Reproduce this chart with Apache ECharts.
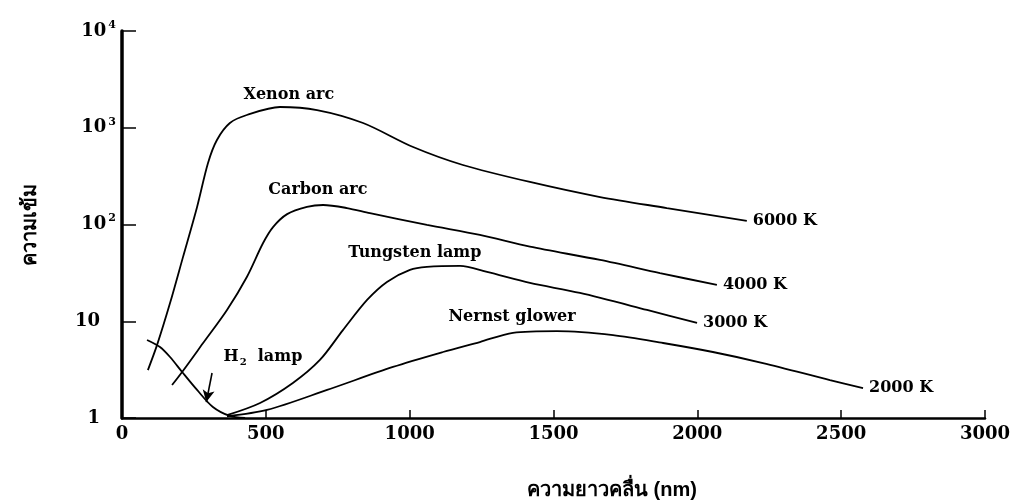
<!DOCTYPE html>
<html>
<head>
<meta charset="utf-8">
<script src="https://cdn.jsdelivr.net/npm/echarts@6/dist/echarts.min.js"></script>
<style>
html,body{margin:0;padding:0;background:#fff;}
#chart{width:1021px;height:501px;}
</style>
</head>
<body>
<div id="chart"></div>
<script>
// wavelength (nm) and relative intensity
const xenonX = [90, 122, 167, 212, 261, 299, 330, 375, 434, 549, 678, 838, 1012, 1185, 1418, 1662, 1894, 2172];
const xenonY = [3.13, 5.7, 15.4, 46, 152, 432, 747, 1120, 1355, 1638, 1525, 1120, 632, 412, 275, 192, 148, 109];

const carbonX = [174, 209, 282, 365, 434, 490, 525, 574, 643, 699, 782, 862, 1060, 1244, 1418, 1662, 1870, 2068];
const carbonY = [2.19, 2.99, 5.96, 13.1, 28.7, 64, 94, 128, 152, 159, 148, 131, 99, 78, 59, 43, 31.5, 23.7];

const tungstenX = [365, 480, 594, 688, 768, 852, 921, 1001, 1060, 1175, 1269, 1418, 1592, 1825, 1999];
const tungstenY = [1.07, 1.43, 2.30, 3.98, 8.1, 16.6, 25.5, 33.9, 36.4, 37.3, 32.3, 24.9, 19.6, 13.1, 9.6];

const nernstX = [365, 504, 713, 942, 1116, 1244, 1359, 1512, 1707, 1881, 2054, 2228, 2461, 2576];
const nernstY = [1.04, 1.21, 1.95, 3.37, 4.81, 6.1, 7.6, 7.9, 7.2, 5.96, 4.81, 3.70, 2.47, 2.04];

const h2X = [87, 132, 167, 209, 261, 316, 375, 428];
const h2Y = [6.4, 5.42, 4.27, 2.99, 1.95, 1.30, 1.05, 1.0];

const tempLabels = ['6000 K', '4000 K', '3000 K', '2000 K'];
const curveNames = ['Xenon arc', 'Carbon arc', 'Tungsten lamp', 'Nernst glower', 'H2 lamp'];
const curveLabelX = [580, 681, 1018, 1356, 490];
const curveLabelY = [2180, 227, 50.7, 11.1, 4.27];

const arrowX = [313, 293];
const arrowY = [2.92, 1.46];

const xTicks = [0, 500, 1000, 1500, 2000, 2500, 3000];
const xTitle = 'ความยาวคลื่น (nm)';
const yTitle = 'ความเข้ม';

const pairs = (xs, ys) => xs.map((x, i) => [x, ys[i]]);
const FONT = 'DejaVu Serif';

const lineBase = (name, xs, ys, endText) => ({
  type: 'line', name: name, data: pairs(xs, ys), smooth: 0.3, showSymbol: false,
  lineStyle: {color: '#000', width: 1.8}, itemStyle: {color: '#000'},
  endLabel: endText ? {show: true, formatter: endText, distance: 6, color: '#000',
    fontFamily: FONT, fontWeight: 'bold', fontSize: 16} : {show: false},
  animation: false, silent: true, z: 3
});

const h2Series = lineBase('H2 lamp', h2X, h2Y, null);
h2Series.markLine = {
  silent: true, symbol: ['none', 'arrow'], symbolSize: [9, 12],
  lineStyle: {color: '#000', width: 1.6, type: 'solid'}, label: {show: false},
  data: [[{coord: [arrowX[0], arrowY[0]]}, {coord: [arrowX[1], arrowY[1]]}]]
};

const labelSeries = {
  type: 'scatter', symbolSize: 1, itemStyle: {color: 'rgba(0,0,0,0)', opacity: 1}, silent: true, z: 4,
  data: curveNames.map((n, i) => ({name: n, value: [curveLabelX[i], curveLabelY[i]]})),
  label: {
    show: true, position: 'inside', color: '#000', opacity: 1, fontFamily: FONT, fontWeight: 'bold', fontSize: 16,
    formatter: p => p.name === 'H2 lamp' ? '{n|H}{s|2}{n|  lamp}' : '{n|' + p.name + '}',
    rich: {
      n: {fontFamily: FONT, fontWeight: 'bold', fontSize: 16, color: '#000'},
      s: {fontFamily: FONT, fontWeight: 'bold', fontSize: 10, color: '#000', padding: [10, 0, 0, 1]}
    }
  }
};

const chart = echarts.init(document.getElementById('chart'), null, {renderer: 'canvas'});
chart.setOption({
  animation: false,
  backgroundColor: '#fff',
  grid: {left: 122, right: 36, top: 31, bottom: 83, containLabel: false},
  xAxis: {
    type: 'value', min: 0, max: 3000, interval: 500,
    axisLine: {show: true, lineStyle: {color: '#000', width: 2.5}},
    axisTick: {show: true, inside: true, length: 8, lineStyle: {color: '#000', width: 1.5}},
    splitLine: {show: false},
    axisLabel: {margin: 7, color: '#000', fontFamily: FONT, fontWeight: 'bold', fontSize: 18,
      formatter: v => xTicks.indexOf(v) >= 0 ? String(v) : ''}
  },
  yAxis: {
    type: 'log', logBase: 10, min: 1, max: 10000,
    name: yTitle, nameLocation: 'middle', nameGap: 82, nameRotate: 90,
    nameTextStyle: {color: '#000', fontSize: 20, fontWeight: 'bold'},
    axisLine: {show: true, lineStyle: {color: '#000', width: 3.5}},
    axisTick: {show: true, inside: true, length: 14, lineStyle: {color: '#000', width: 1.5}},
    splitLine: {show: false},
    axisLabel: {
      margin: 6, color: '#000', fontFamily: FONT, fontWeight: 'bold', fontSize: 18,
      formatter: v => {
        const e = Math.round(Math.log10(v));
        if (e === 0) return '{b|1}{p|}';
        if (e === 1) return '{b|10}{p|}';
        return '{b|10}{s|' + e + '}';
      },
      rich: {
        b: {fontFamily: FONT, fontWeight: 'bold', fontSize: 18, color: '#000'},
        s: {fontFamily: FONT, fontWeight: 'bold', fontSize: 11, color: '#000', padding: [0, 0, 12, 2]},
        p: {width: 16}
      }
    }
  },
  graphic: [{
    type: 'text', x: 612, y: 490, silent: true,
    style: {text: xTitle, fill: '#000', fontSize: 20, fontWeight: 'bold', align: 'center', verticalAlign: 'middle'}
  }],
  series: [
    lineBase('Xenon arc', xenonX, xenonY, tempLabels[0]),
    lineBase('Carbon arc', carbonX, carbonY, tempLabels[1]),
    lineBase('Tungsten lamp', tungstenX, tungstenY, tempLabels[2]),
    lineBase('Nernst glower', nernstX, nernstY, tempLabels[3]),
    h2Series,
    labelSeries
  ]
});
</script>
</body>
</html>
